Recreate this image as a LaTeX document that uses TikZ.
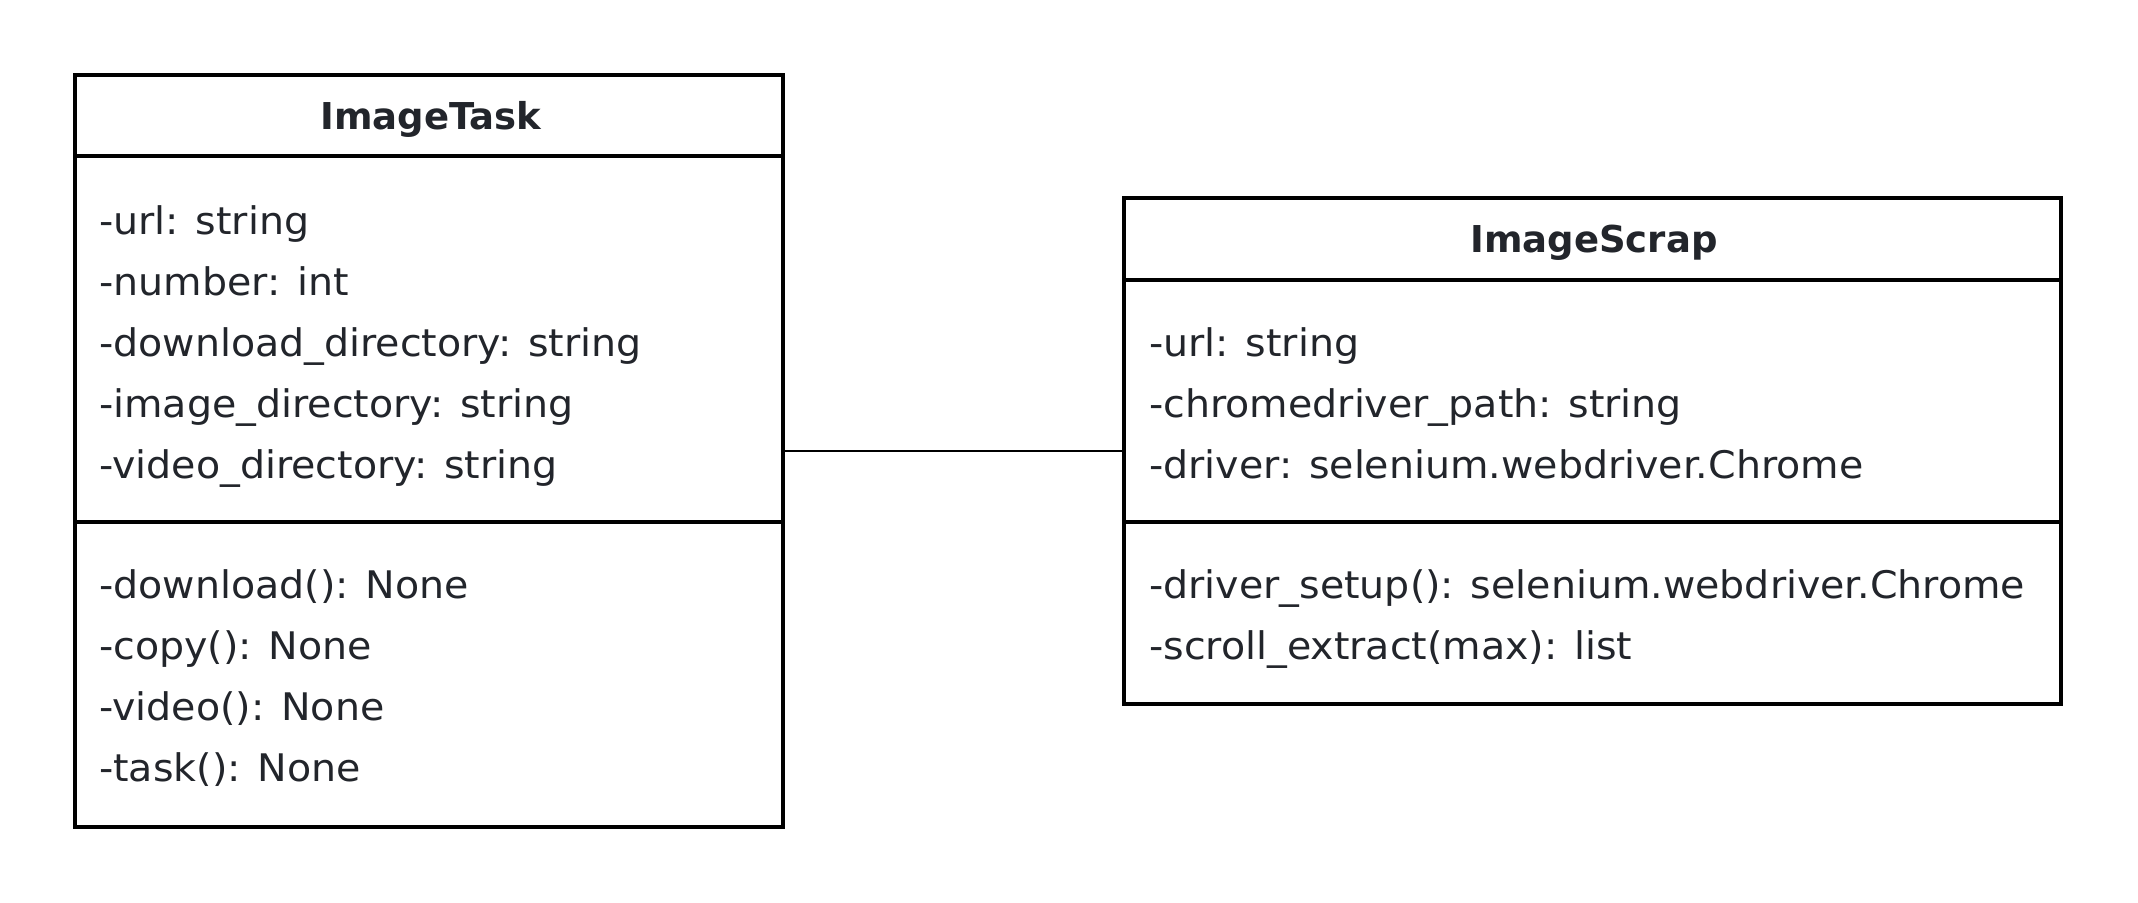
\documentclass[tikz,border=0pt]{standalone}
\usepackage{fontspec}
\setmainfont{DejaVu Sans}
\newfontfamily\memberfont{DejaVu Sans}[FakeStretch=1.04]
\begin{document}
\begin{tikzpicture}[x=1pt,y=-1pt,
  box/.style={draw=black,line width=3.5pt,inner sep=0pt,fill=none},
  sepline/.style={draw=black,line width=3.5pt},
  member/.style={anchor=base west,inner sep=0pt,text=txt,font=\memberfont\fontsize{38}{45}\selectfont},
  title/.style={anchor=base,inner sep=0pt,text=txt,font=\fontsize{37}{44}\selectfont\bfseries},
  link/.style={draw=black,line width=2pt}]
\definecolor{txt}{HTML}{22252B}
\fill[white] (0,0) rectangle (2138,902);
\useasboundingbox (0,0) rectangle (2138,902);
% ImageTask
\node[box,minimum width=708pt,minimum height=752pt] (task) at (429,451) {};
\draw[sepline] (task.west |- 0,156) -- (task.east |- 0,156);
\draw[sepline] (task.west |- 0,522) -- (task.east |- 0,522);
\node[title] (tt) at (431,129) {ImageTask};
\node[member] (t1) at (99,234) {-url: string};
\node[member] (t2) at (99,295) {-number: int};
\node[member] (t3) at (99,356) {-download\_directory: string};
\node[member] (t4) at (99,417) {-image\_directory: string};
\node[member] (t5) at (99,478) {-video\_directory: string};
\node[member] (m1) at (99,598) {-download(): None};
\node[member] (m2) at (99,659) {-copy(): None};
\node[member] (m3) at (99,720) {-video(): None};
\node[member] (m4) at (99,781) {-task(): None};
% ImageScrap
\node[box,minimum width=937pt,minimum height=506pt] (scrap) at (1592.5,451) {};
\draw[sepline] (scrap.west |- 0,280) -- (scrap.east |- 0,280);
\draw[sepline] (scrap.west |- 0,522) -- (scrap.east |- 0,522);
\node[title] (st) at (1594,252) {ImageScrap};
\node[member] (s1) at (1149,356) {-url: string};
\node[member] (s2) at (1149,417) {-chromedriver\_path: string};
\node[member] (s3) at (1149,478) {-driver: selenium.webdriver.Chrome};
\node[member] (n1) at (1149,598) {-driver\_setup(): selenium.webdriver.Chrome};
\node[member] (n2) at (1149,659) {-scroll\_extract(max): list};
% connector
\draw[link] (task.east) -- (scrap.west);
\end{tikzpicture}
\end{document}
